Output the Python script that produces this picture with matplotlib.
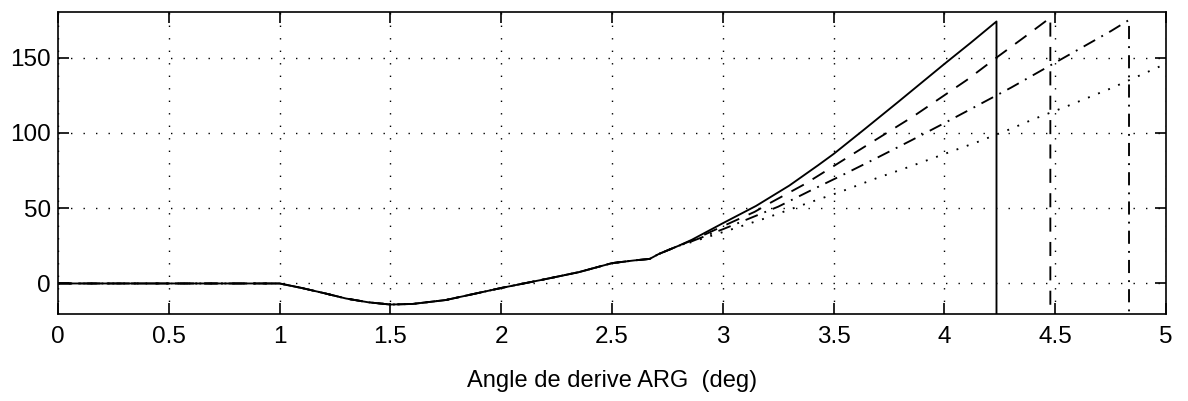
import matplotlib.pyplot as plt

# common part of the curve (all cases overlap up to ~2.8 deg)
x_common = [0.0, 1.0, 1.1, 1.2, 1.3, 1.4, 1.5, 1.6, 1.75, 2.0, 2.2, 2.35, 2.5, 2.6, 2.67, 2.71, 2.8]
y_common = [0.0, 0.0, -3.0, -6.4, -10.0, -12.5, -14.0, -13.6, -11.0, -3.0, 2.9, 7.5, 13.5, 15.3, 16.3, 19.5, 25.0]

# branches after divergence (last point = vertical drop to the bottom)
x_solid = [2.86, 3.0, 3.15, 3.3, 3.43, 3.5, 3.64, 3.79, 4.0, 4.12, 4.235, 4.235]
y_solid = [29.0, 40.0, 51.5, 65.0, 78.5, 86.0, 102.5, 120.4, 145.8, 160.0, 174.0, -20.0]

x_dash = [2.86, 3.0, 3.144, 3.22, 3.37, 3.49, 3.62, 3.74, 3.86, 3.97, 4.1, 4.235, 4.36, 4.478, 4.478]
y_dash = [28.5, 38.0, 47.6, 54.0, 66.0, 77.0, 89.0, 100.0, 111.0, 122.0, 135.0, 150.0, 163.5, 176.5, -20.0]

x_dashdot = [2.86, 3.0, 3.084, 3.25, 3.4, 3.54, 3.69, 3.85, 4.0, 4.134, 4.3, 4.45, 4.6, 4.75, 4.833, 4.833]
y_dashdot = [28.0, 36.0, 41.0, 51.0, 62.0, 72.0, 83.0, 95.0, 106.5, 117.0, 130.0, 142.5, 155.0, 167.5, 175.0, -20.0]

x_dot = [2.86, 3.03, 3.19, 3.38, 3.53, 3.69, 3.84, 4.0, 4.15, 4.3, 4.4, 4.55, 4.65, 4.75, 4.94, 5.0]
y_dot = [27.5, 35.5, 43.2, 53.2, 60.8, 69.7, 77.4, 86.0, 94.0, 102.7, 109.0, 117.5, 123.5, 129.5, 142.0, 146.0]

xticks = [0, 0.5, 1, 1.5, 2, 2.5, 3, 3.5, 4, 4.5, 5]
xticklabels = ['0', '0.5', '1', '1.5', '2', '2.5', '3', '3.5', '4', '4.5', '5']
yticks = [0, 50, 100, 150]

plt.rcParams['font.family'] = ['Liberation Sans', 'DejaVu Sans']

fig = plt.figure(figsize=(11.88, 4.01), dpi=100)
ax = fig.add_axes([0.0488, 0.218, 0.9327, 0.751])

lw = 1.35
ax.plot(x_common + x_solid, y_common + y_solid, color='black', lw=lw, linestyle='-')
ax.plot(x_common + x_dash, y_common + y_dash, color='black', lw=lw, linestyle=(0, (7.5, 5.5)))
ax.plot(x_common + x_dashdot, y_common + y_dashdot, color='black', lw=lw,
        linestyle=(0, (7, 3.8, 1, 3.8)))
ax.plot(x_common + x_dot, y_common + y_dot, color='black', lw=lw, linestyle=(0, (1, 4.8)))

ax.set_xlim(0, 5)
ax.set_ylim(-20, 180)
ax.set_xticks(xticks)
ax.set_xticklabels(xticklabels)
ax.set_yticks(yticks)
ax.grid(True, color='black', linestyle=(0, (1, 8)), linewidth=1.0)

ax.tick_params(direction='in', length=8, width=1.2, top=True, right=True,
               labelsize=17.5, colors='black')
ax.tick_params(axis='x', pad=9)
ax.tick_params(axis='y', pad=5)
for s in ax.spines.values():
    s.set_linewidth(1.2)

ax.set_xlabel('Angle de derive ARG  (deg)', fontsize=17, labelpad=16)

fig.savefig('out.png', dpi=100)
